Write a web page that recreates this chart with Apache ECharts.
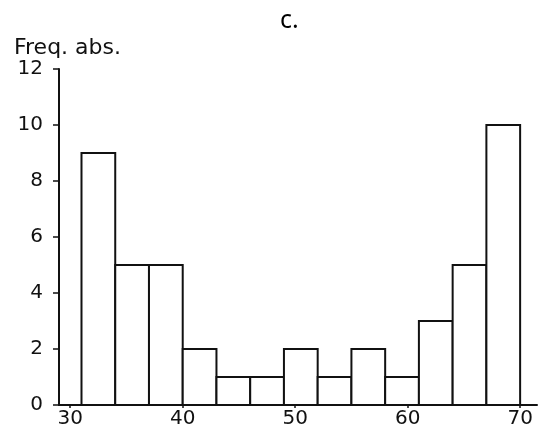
<!DOCTYPE html>
<html><head><meta charset="utf-8">
<script src="https://cdn.jsdelivr.net/npm/echarts@6/dist/echarts.min.js"></script>
<style>html,body{margin:0;padding:0;background:#fff}#c{width:538px;height:430px}</style>
</head><body><div id="c"></div>
<script>
const binStart = [31, 34, 37, 40, 43, 46, 49, 52, 55, 58, 61, 64, 67];
const binEnd   = [34, 37, 40, 43, 46, 49, 52, 55, 58, 61, 64, 67, 70];
const counts   = [9, 5, 5, 2, 1, 1, 2, 1, 2, 1, 3, 5, 10];
const xTicks = [30, 40, 50, 60, 70];
const yTicks = [0, 2, 4, 6, 8, 10, 12];

const data = binStart.map((s, i) => [s, binEnd[i], counts[i]]);
const font = 'DejaVu Sans, Verdana, sans-serif';
const chart = echarts.init(document.getElementById('c'));
chart.setOption({
  animation: false,
  title: { text: 'c.', left: 275, top: 3, textStyle: { fontFamily: 'Noto Sans, sans-serif', fontSize: 25, fontWeight: 'normal', color: '#000' } },
  grid: { left: 59, right: 1, top: 69, bottom: 25 },
  xAxis: {
    type: 'value', min: 29, max: 71.5,
    axisLine: { lineStyle: { color: '#111', width: 2 } },
    axisTick: { show: true, customValues: xTicks, length: 3, inside: false, lineStyle: { color: '#111', width: 1.5 } },
    axisLabel: { customValues: xTicks, color: '#111', fontFamily: font, fontSize: 20, margin: 4 },
    splitLine: { show: false }
  },
  yAxis: {
    type: 'value', min: 0, max: 12, interval: 2,
    name: 'Freq. abs.', nameLocation: 'end', nameGap: 8,
    nameTextStyle: { color: '#111', fontFamily: font, fontSize: 22, align: 'left', padding: [0, 0, 0, -45] },
    axisLine: { show: true, lineStyle: { color: '#111', width: 2 } },
    axisTick: { show: true, length: 6, lineStyle: { color: '#111', width: 1.5 } },
    axisLabel: { color: '#111', fontFamily: font, fontSize: 20, margin: 16 },
    splitLine: { show: false }
  },
  series: [{
    type: 'custom',
    data: data,
    encode: { x: [0, 1], y: 2 },
    renderItem: function (params, api) {
      const p0 = api.coord([api.value(0), 0]);
      const p1 = api.coord([api.value(1), api.value(2)]);
      return {
        type: 'rect',
        shape: { x: p0[0], y: p1[1], width: p1[0] - p0[0], height: p0[1] - p1[1] },
        style: { fill: '#fff', stroke: '#111', lineWidth: 2 }
      };
    }
  }]
});
</script></body></html>
